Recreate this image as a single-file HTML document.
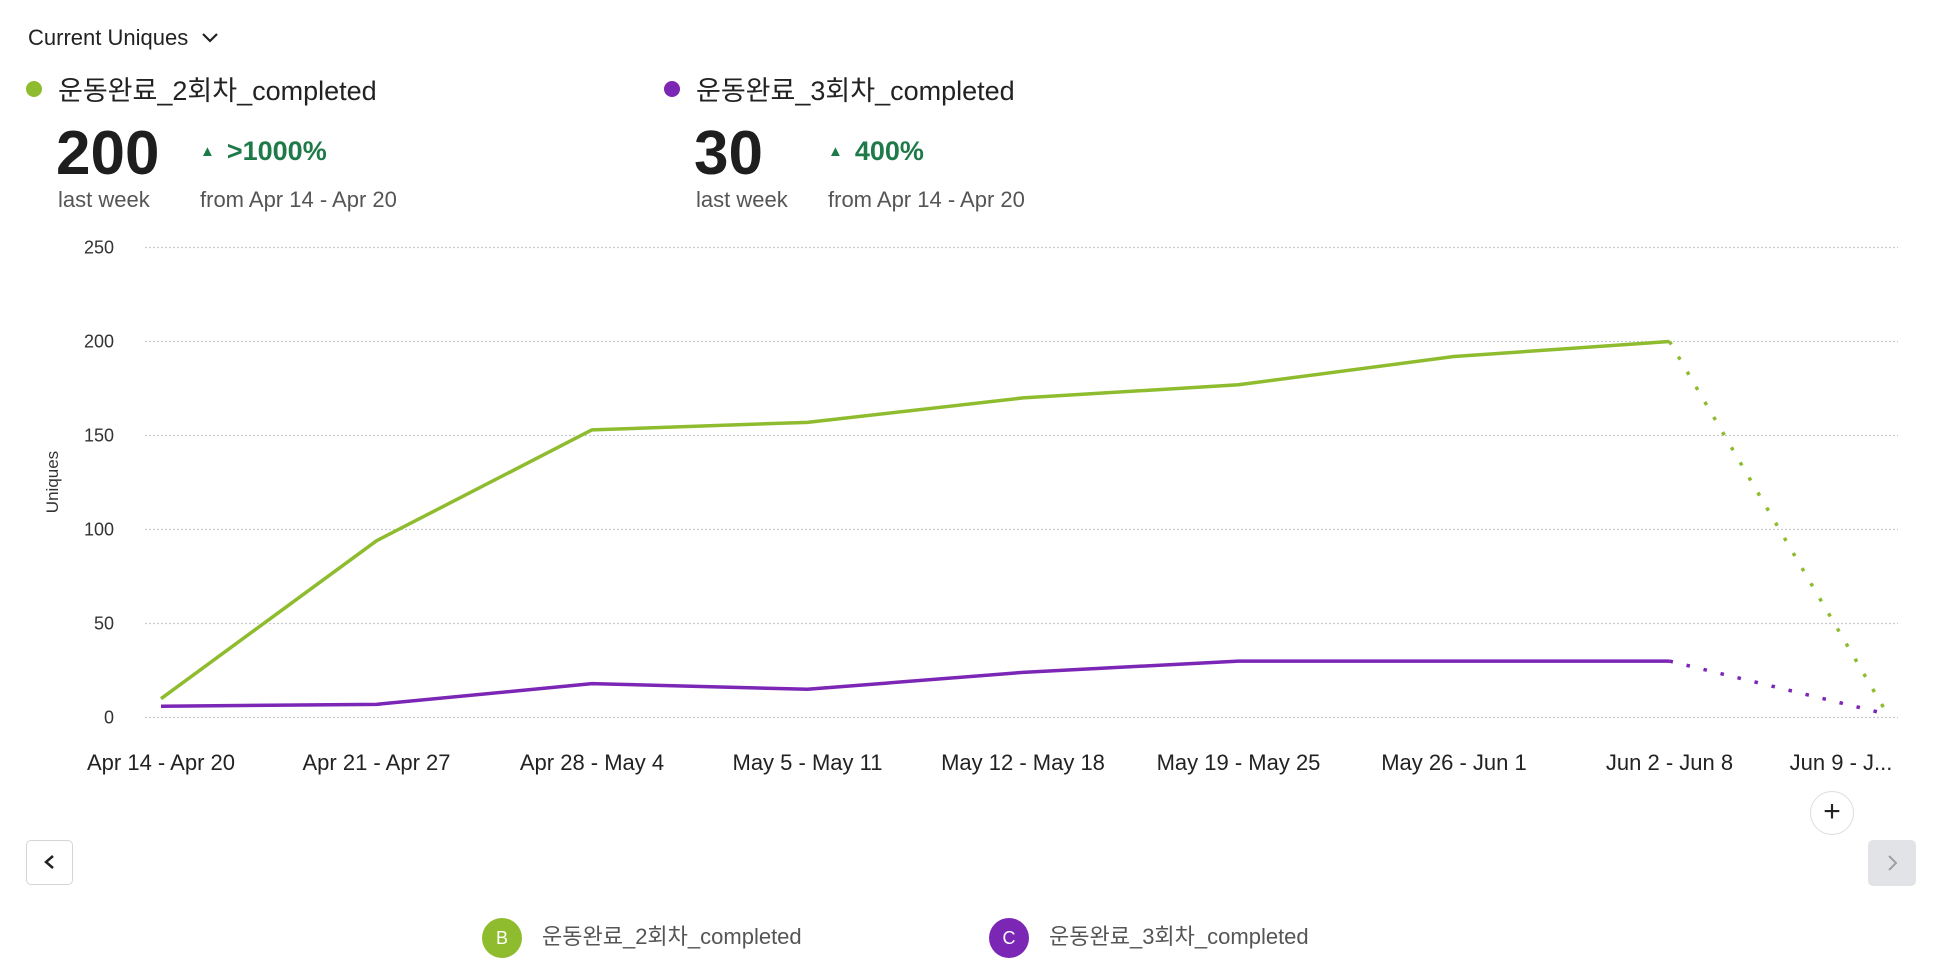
<!DOCTYPE html>
<html><head><meta charset="utf-8">
<style>
body{margin:0;width:1950px;height:978px;background:#fff;font-family:"Liberation Sans","Noto Sans CJK KR",sans-serif;color:#222;position:relative;overflow:hidden}
.abs{position:absolute;white-space:nowrap}
</style></head><body>
<div class="abs" style="left:28px;top:25px;font-size:22px;color:#222">Current Uniques <svg width="20" height="14" viewBox="0 0 20 14" style="margin-left:6px"><path d="M3 3 L10 10 L17 3" stroke="#222" stroke-width="2.2" fill="none"/></svg></div>

<div class="abs" style="left:26px;top:81px;width:16px;height:16px;border-radius:50%;background:#8fbc2f"></div>
<div class="abs" style="left:58px;top:69px;font-size:27px;color:#222">운동완료_2회차_completed</div>
<div class="abs" style="left:56px;top:118px;font-size:62px;font-weight:bold;color:#1e1e1e">200</div>
<div class="abs" style="left:200px;top:136px;font-size:27px;font-weight:bold;color:#1f7a4a"><span style="font-size:15px;vertical-align:4px;margin-right:12px">▲</span>&gt;1000%</div>
<div class="abs" style="left:58px;top:187px;font-size:22px;color:#555">last week</div>
<div class="abs" style="left:200px;top:187px;font-size:22px;color:#555">from Apr 14 - Apr 20</div>

<div class="abs" style="left:664px;top:81px;width:16px;height:16px;border-radius:50%;background:#7b26b5"></div>
<div class="abs" style="left:696px;top:69px;font-size:27px;color:#222">운동완료_3회차_completed</div>
<div class="abs" style="left:694px;top:118px;font-size:62px;font-weight:bold;color:#1e1e1e">30</div>
<div class="abs" style="left:828px;top:136px;font-size:27px;font-weight:bold;color:#1f7a4a"><span style="font-size:15px;vertical-align:4px;margin-right:12px">▲</span>400%</div>
<div class="abs" style="left:696px;top:187px;font-size:22px;color:#555">last week</div>
<div class="abs" style="left:828px;top:187px;font-size:22px;color:#555">from Apr 14 - Apr 20</div>

<svg id="chart" class="abs" style="left:0;top:0" width="1950" height="800"></svg>

<div class="abs" style="left:1810px;top:791px;width:44px;height:44px;border-radius:50%;border:1.5px solid #ddd;box-sizing:border-box;text-align:center;line-height:40px;font-size:30px;color:#222">+</div>
<div class="abs" style="left:26px;top:840px;width:47px;height:45px;border:1.5px solid #d5d5d5;border-radius:5px;box-sizing:border-box"><svg width="44" height="42"><path d="M26 15 L19 21 L26 27" stroke="#222" stroke-width="2.5" fill="none"/></svg></div>
<div class="abs" style="left:1868px;top:840px;width:48px;height:46px;background:#e2e3e6;border-radius:5px"><svg width="48" height="46"><path d="M21 16 L28 23 L21 30" stroke="#a0a0a0" stroke-width="2" fill="none"/></svg></div>

<div class="abs" style="left:482px;top:918px;height:40px;font-size:22px;color:#555"><span style="display:inline-block;width:40px;height:40px;border-radius:50%;background:#8fbc2f;color:#fff;text-align:center;line-height:40px;font-size:18px;vertical-align:middle;margin-right:20px">B</span>운동완료_2회차_completed</div>
<div class="abs" style="left:989px;top:918px;height:40px;font-size:22px;color:#555"><span style="display:inline-block;width:40px;height:40px;border-radius:50%;background:#7b26b5;color:#fff;text-align:center;line-height:40px;font-size:18px;vertical-align:middle;margin-right:20px">C</span>운동완료_3회차_completed</div>

<script>
const categories=["Apr 14 - Apr 20","Apr 21 - Apr 27","Apr 28 - May 4","May 5 - May 11","May 12 - May 18","May 19 - May 25","May 26 - Jun 1","Jun 2 - Jun 8","Jun 9 - J..."];
const seriesB=[10,94,153,157,170,177,192,200,4];
const seriesC=[6,7,18,15,24,30,30,30,2];
const yTicks=[0,50,100,150,200,250];
const NS="http://www.w3.org/2000/svg";
const svg=document.getElementById('chart');
const x0=161,x1=1885,yBase=717.5,yTop=247.5,yMax=250;
const xs=i=>x0+(x1-x0)*i/(categories.length-1);
const ys=v=>yBase-(yBase-yTop)*v/yMax;
function mk(t,a){const e=document.createElementNS(NS,t);for(const k in a)e.setAttribute(k,a[k]);svg.appendChild(e);return e;}
yTicks.forEach(t=>{
  const l=mk('line',{x1:145,x2:1898,y1:ys(t),y2:ys(t),stroke:'#c5c9cf','stroke-width':1.3,'stroke-dasharray':'2 2'});
  
  
  const tx=mk('text',{x:114,y:ys(t)+6,'text-anchor':'end','font-size':18,fill:'#333','font-family':'Liberation Sans, sans-serif'});
  tx.textContent=t;
  
  
});
const yt=mk('text',{transform:'translate(58,482) rotate(-90)','text-anchor':'middle','font-size':17,fill:'#333','font-family':'Liberation Sans, sans-serif'});
yt.textContent='Uniques';


categories.forEach((c,i)=>{
  const last=i===categories.length-1;
  const tx=mk('text',{x:last?xs(i)-44:xs(i),y:770,'text-anchor':'middle','font-size':22,fill:'#222','font-family':'Liberation Sans, sans-serif'});
  tx.textContent=c;
  
  
});
function draw(vals,color,name){
  const n=vals.length;
  const solid=vals.slice(0,n-1).map((v,i)=>xs(i)+','+ys(v)).join(' ');
  const p=mk('polyline',{points:solid,fill:'none',stroke:color,'stroke-width':3.5,'stroke-linejoin':'round'});
  
  
  const d=mk('line',{x1:xs(n-2),y1:ys(vals[n-2]),x2:xs(n-1),y2:ys(vals[n-1]),stroke:color,'stroke-width':3.5,'stroke-dasharray':'3.5 14'});
  
  
}
draw(seriesB,'#8fbc2f','series-b');
draw(seriesC,'#7b26b5','series-c');
</script>
</body></html>
